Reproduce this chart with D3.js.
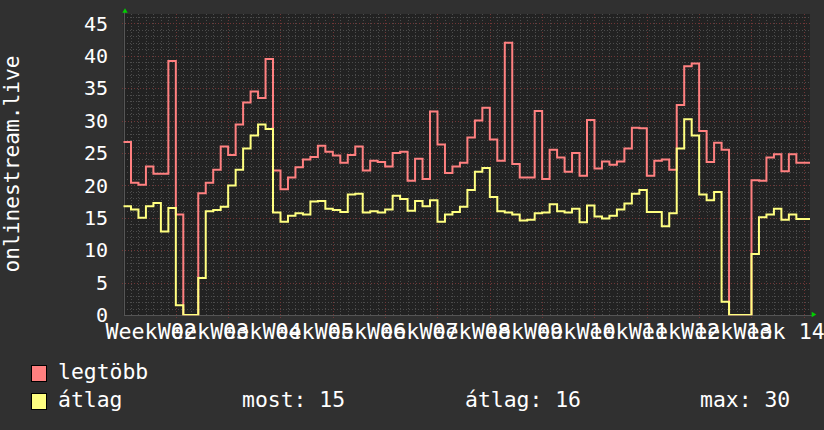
<!DOCTYPE html>
<html><head><meta charset="utf-8">
<script src="https://cdn.jsdelivr.net/npm/d3@7"></script>
<style>html,body{margin:0;padding:0;background:#303030;}svg{display:block;}</style>
</head><body><svg id="c" width="824" height="430"></svg>
<script>
// ---- data (one value per day) ----
const seriesNames = ["legtöbb", "átlag"];
const maxValues = [26.7,20.4,20.1,22.9,21.8,21.8,39.2,15.5,0,0,18.8,20.4,22.4,26.0,24.7,29.4,32.8,34.5,33.5,39.5,
  22.3,19.4,21.2,22.8,24.0,24.4,26.1,25.2,24.6,23.5,24.7,26.0,22.3,23.8,23.6,22.9,25.0,25.2,20.7,24.1,
  21.0,31.4,26.3,21.9,22.9,23.5,27.4,30.0,32.0,27.1,23.8,42.0,23.3,21.2,21.2,31.5,21.0,25.5,24.3,22.1,
  25.0,21.5,30.1,22.6,23.7,23.2,23.7,25.7,28.9,28.8,21.5,23.8,24.0,22.4,32.4,38.4,38.8,28.4,23.6,26.6,
  25.5,0,0,0,20.8,20.7,24.3,24.8,22.2,24.8,23.5,23.5];
const avgValues = [16.8,16.3,15.0,16.8,17.3,12.9,16.5,1.5,0,0,5.7,16.0,16.2,16.7,20.0,22.4,25.7,27.7,29.4,28.7,
  15.8,14.4,15.3,15.7,15.5,17.5,17.6,16.4,16.2,15.9,18.6,18.7,15.8,16.0,15.8,16.3,18.4,17.9,16.1,17.6,
  16.8,17.7,14.4,15.5,15.9,16.7,19.3,22.1,22.7,18.2,16.0,15.8,15.5,14.6,14.7,15.7,15.8,17.1,16.0,15.8,
  16.4,14.3,16.9,15.2,14.9,15.3,16.3,17.2,18.7,19.3,15.9,15.9,13.7,15.7,25.7,30.2,27.7,18.6,17.7,19.0,
  2.05,0,0,0,9.4,15.1,15.5,16.4,14.7,15.5,14.8,14.8];
const yTicks = [0,5,10,15,20,25,30,35,40,45];
const weekLabels = ["Week 02","Week 03","Week 04","Week 05","Week 06","Week 07","Week 08",
  "Week 09","Week 10","Week 11","Week 12","Week 13","Week 14"];
const statLabels = ["most: 15", "átlag: 16", "max: 30"];
const yTitle = "onlinestream.live";

// ---- layout ----
const svg = d3.select("#c");
const L = 123.5, R = 810, T = 14, B = 315, dayW = 7.476;
const nDays = (R - L) / dayW;
const x = d3.scaleLinear().domain([0, nDays]).range([L, R]);
const y = d3.scaleLinear().domain([0, 46.45]).range([B, T]);
const font = "'DejaVu Sans Mono', monospace";
const colMax = "#ff8080", colAvg = "#ffff80";

svg.append("defs").append("clipPath").attr("id", "plotclip")
  .append("rect").attr("x", L - 2).attr("y", T - 2).attr("width", R - L + 4).attr("height", B - T + 2.2);

svg.append("rect").attr("width", 824).attr("height", 430).attr("fill", "#303030");
svg.append("rect").attr("x", L).attr("y", T).attr("width", R - L).attr("height", B - T).attr("fill", "#222222");

const grid = svg.append("g").attr("shape-rendering", "crispEdges");
// minor grid
d3.range(1, 47).filter(v => v % 5 !== 0).forEach(v => {
  grid.append("line").attr("x1", L).attr("x2", R).attr("y1", Math.round(y(v)) + 0.5).attr("y2", Math.round(y(v)) + 0.5)
    .attr("stroke", "#4c4c4c").attr("stroke-dasharray", "1,2");
});
d3.range(1, Math.floor(nDays) + 1).filter(d => d % 7 !== 0).forEach(d => {
  grid.append("line").attr("y1", T).attr("y2", B + 2).attr("x1", Math.round(x(d)) + 0.5).attr("x2", Math.round(x(d)) + 0.5)
    .attr("stroke", "#4c4c4c").attr("stroke-dasharray", "1,2");
});
// major grid
yTicks.filter(v => v > 0).forEach(v => {
  grid.append("line").attr("x1", L - 2).attr("x2", R).attr("y1", Math.round(y(v)) + 0.5).attr("y2", Math.round(y(v)) + 0.5)
    .attr("stroke", "#703636").attr("stroke-dasharray", "1,2");
});
d3.range(7, nDays, 7).forEach(d => {
  grid.append("line").attr("y1", T).attr("y2", B + 3).attr("x1", Math.round(x(d)) + 0.5).attr("x2", Math.round(x(d)) + 0.5)
    .attr("stroke", "#703636").attr("stroke-dasharray", "1,2");
});
// axes
grid.append("line").attr("x1", L).attr("x2", R + 2).attr("y1", B + 0.5).attr("y2", B + 0.5).attr("stroke", "#555");
grid.append("line").attr("x1", L + 0.5).attr("x2", L + 0.5).attr("y1", T - 2).attr("y2", B).attr("stroke", "#555");

// series (step lines)
const stepLine = d3.line().x(d => x(d[0])).y(d => y(d[1])).curve(d3.curveStepAfter);
function pts(vals) { const p = vals.map((v, i) => [i, v]); p.push([nDays, vals[vals.length - 1]]); return p; }
const series = svg.append("g").attr("clip-path", "url(#plotclip)");
series.append("path").attr("d", stepLine(pts(maxValues))).attr("fill", "none").attr("stroke", colMax).attr("stroke-width", 2);
series.append("path").attr("d", stepLine(pts(avgValues))).attr("fill", "none").attr("stroke", colAvg).attr("stroke-width", 2);

// arrows
svg.append("path").attr("d", "M122.3,12.7L127.7,12.7L125,8.3Z").attr("fill", "#00d000");
svg.append("path").attr("d", "M811.7,311.7L811.7,317.3L816.3,314.5Z").attr("fill", "#00d000");

// y tick labels
svg.append("g").selectAll("text").data(yTicks).join("text")
  .attr("x", 108).attr("y", d => y(d)).attr("dy", "0.36em").attr("text-anchor", "end")
  .attr("font-family", font).attr("font-size", 20).attr("fill", "#ffffff").text(d => d);

// x labels (centered within each week, overlapping as in the original)
svg.append("g").selectAll("text").data(weekLabels).join("text")
  .attr("x", (d, i) => x(3.5 + 7 * i) + 1.5).attr("y", 339).attr("text-anchor", "middle")
  .attr("font-family", font).attr("font-size", 21.7).attr("fill", "#ffffff").text(d => d);

// y title
svg.append("text").attr("transform", "translate(18.5,164) rotate(-90)").attr("text-anchor", "middle")
  .attr("font-family", font).attr("font-size", 21.2).attr("fill", "#ffffff").text(yTitle);

// legend
const leg = svg.append("g").attr("font-family", font).attr("font-size", 21.4).attr("fill", "#ffffff");
[[colMax, 365.5, 379], [colAvg, 393.5, 407]].forEach((r, i) => {
  leg.append("rect").attr("x", 31.5).attr("y", r[1]).attr("width", 15).attr("height", 16)
    .attr("fill", r[0]).attr("stroke", "#000").attr("stroke-width", 1);
  leg.append("text").attr("x", 58).attr("y", r[2]).text(seriesNames[i]);
});
[242, 465, 700].forEach((px, i) => leg.append("text").attr("x", px).attr("y", 407).text(statLabels[i]));
</script>
</body></html>
